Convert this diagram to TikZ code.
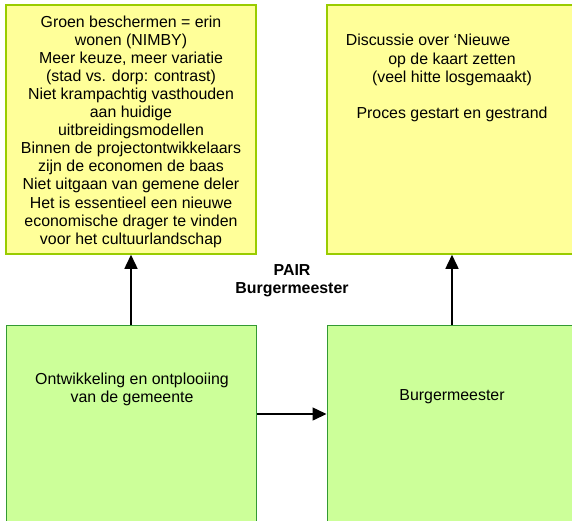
\documentclass[tikz,border=0pt]{standalone}
\usepackage{fontspec}
\setmainfont{Liberation Sans}
\usetikzlibrary{arrows.meta, positioning}
\definecolor{notefill}{HTML}{FFFF99}
\definecolor{notedraw}{HTML}{99CC00}
\definecolor{actorfill}{HTML}{CCFF99}
\definecolor{actordraw}{HTML}{339933}
\tikzset{
    note/.style={rectangle, draw=notedraw, line width=1.5pt, fill=notefill, minimum width=250pt, minimum height=249pt, inner sep=0pt},
    actor/.style={rectangle, draw=actordraw, line width=1pt, fill=actorfill, minimum width=250pt, minimum height=250pt, inner sep=0pt},
    txt/.style={align=center, inner sep=0pt, font=\fontsize{15.9}{18.1}\selectfont},
    arrow/.style={line width=1.5pt, -{Triangle[length=14pt, width=13pt]}}
}

\begin{document}
\begin{tikzpicture}[x=1pt, y=-1pt]
            \useasboundingbox (0,0) rectangle (572,520);
            \node[note] (ideas_left) at (131,129.5) {};
            \node[note] (ideas_right) at (452,129.5) {};
            \node[actor] (ontwikkeling) at (131,450) {};
            \node[actor] (burgemeester) at (452,450) {};

            \node[txt] (ideas_left_txt) at (131,131.5) {Groen beschermen = erin\\wonen (NIMBY)\\Meer keuze, meer variatie\\(stad vs. dorp: contrast)\\Niet krampachtig vasthouden\\aan huidige\\uitbreidingsmodellen\\Binnen de projectontwikkelaars\\zijn de economen de baas\\Niet uitgaan van gemene deler\\Het is essentieel een nieuwe\\economische drager te vinden\\voor het cultuurlandschap};
            \node[txt] (ideas_right_txt) at (452,78) {Discussie over ‘Nieuwe\hspace*{48pt}\\op de kaart zetten\\(veel hitte losgemaakt)\\ \\Proces gestart en gestrand};
            \node[txt] (ontwikkeling_txt) at (132,389) {Ontwikkeling en ontplooiing\\van de gemeente};
            \node[txt] (burgemeester_txt) at (452,397) {Burgermeester};
            \node[txt, font=\fontsize{15.9}{18.1}\selectfont\bfseries] (pair) at (292,280.5) {PAIR\\Burgermeester};

            \draw[arrow] (ontwikkeling) -- (ideas_left);
            \draw[arrow] (burgemeester) -- (ideas_right);
            \draw[arrow] ([yshift=36pt]ontwikkeling.east) -- ([yshift=36pt]burgemeester.west);
        \end{tikzpicture}
\end{document}
